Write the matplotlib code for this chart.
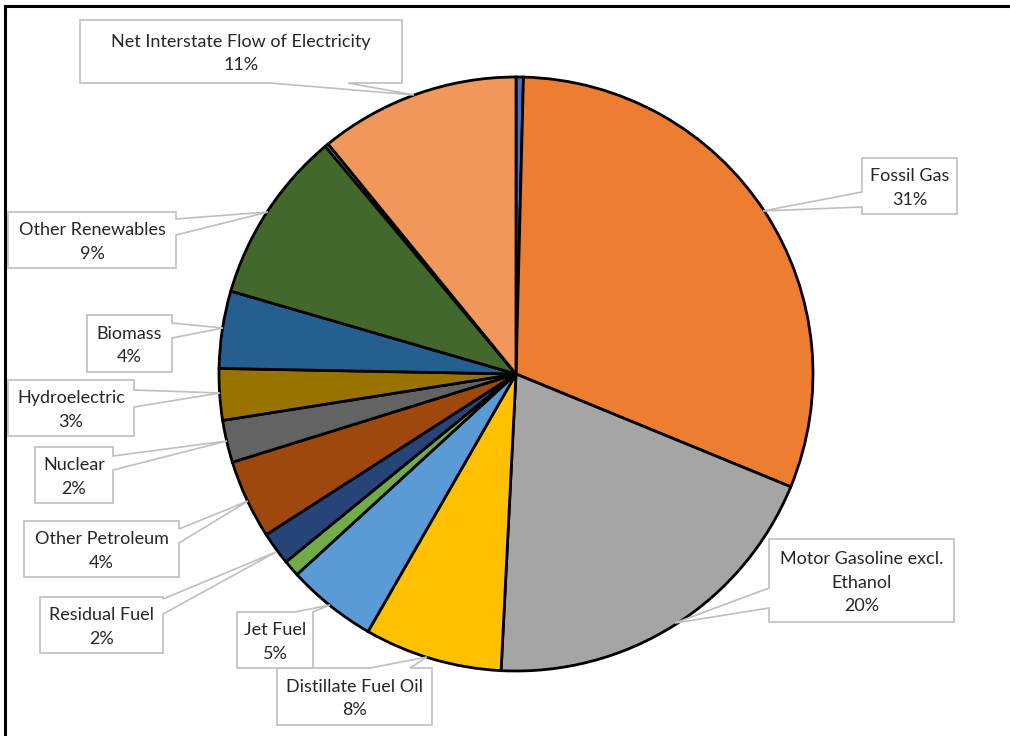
#!/usr/bin/env python3

import matplotlib
matplotlib.use('Agg')
import matplotlib.pyplot as plt
from matplotlib.patches import Polygon


#------------------------------------------------------------------------------
# Data (percent of total, clockwise from 12 o'clock)
#------------------------------------------------------------------------------

sources = [
    'Petroleum Coke', 'Fossil Gas', 'Motor Gasoline excl.\nEthanol',
    'Distillate Fuel Oil', 'Jet Fuel', 'Asphalt', 'Residual Fuel',
    'Other Petroleum', 'Nuclear', 'Hydroelectric', 'Biomass',
    'Other Renewables', 'Wood', 'Net Interstate Flow of Electricity',
]
shares = [0.4, 30.8, 19.6, 7.5, 4.9, 0.9, 1.8, 4.3, 2.3, 2.8, 4.2, 9.4, 0.2, 10.9]
shown = [False, True, True, True, True, False, True, True, True, True, True, True, False, True]
colors = [
    '#4472C4', '#ED7D31', '#A5A5A5', '#FFC000', '#5B9BD5', '#70AD47', '#264478',
    '#9E480E', '#636363', '#997300', '#255E91', '#43682B', '#698ED0', '#F1975A',
]

W, H = 1010, 736
CX, CY, R = 516, 374, 297

# callout boxes in pixel coords (y down): box, pointer side, pointer base, tip
callouts = {
    'Net Interstate Flow of Electricity': ((80, 20, 402, 83), 'bottom', (270, 348), (414, 95)),
    'Fossil Gas': ((862, 158, 957, 214), 'left', (192, 207), (763, 211)),
    'Motor Gasoline excl.\nEthanol': ((769, 539, 954, 622), 'left', (588, 608), (675, 623)),
    'Distillate Fuel Oil': ((277, 668, 432, 725), 'top', (370, 410), (427, 657)),
    'Jet Fuel': ((237, 612, 313, 668), 'top', (295, 313), (330, 605)),
    'Residual Fuel': ((40, 597, 163, 653), 'right', (599, 614), (276, 552)),
    'Other Petroleum': ((24, 521, 179, 577), 'right', (529, 543), (248, 501)),
    'Nuclear': ((35, 447, 113, 503), 'right', (456, 470), (227, 441)),
    'Hydroelectric': ((8, 380, 134, 436), 'right', (390, 407), (220, 393)),
    'Biomass': ((87, 315, 172, 372), 'right', (323, 338), (223, 328)),
    'Other Renewables': ((8, 212, 176, 268), 'right', (219, 235), (268, 212)),
}


def fy(y):
    # image row -> data y
    return H - y


def callout_shape(box, side, base, tip):
    x0, y0, x1, y1 = box
    b0, b1 = base
    if side == 'top':
        pts = [(x0, y0), (b0, y0), tip, (b1, y0), (x1, y0), (x1, y1), (x0, y1)]
    elif side == 'right':
        pts = [(x0, y0), (x1, y0), (x1, b0), tip, (x1, b1), (x1, y1), (x0, y1)]
    elif side == 'bottom':
        pts = [(x0, y0), (x1, y0), (x1, y1), (b1, y1), tip, (b0, y1), (x0, y1)]
    else:
        pts = [(x0, y0), (x1, y0), (x1, y1), (x0, y1), (x0, b1), tip, (x0, b0)]
    return [(x, fy(y)) for x, y in pts]


#------------------------------------------------------------------------------
# Plot
#------------------------------------------------------------------------------


def draw():
    fig = plt.figure(figsize=(W / 100, H / 100), dpi=100)
    ax = fig.add_axes([0, 0, 1, 1])

    ax.pie(shares, colors=colors, startangle=90, counterclock=False,
           center=(CX, fy(CY)), radius=R,
           wedgeprops=dict(edgecolor='black', linewidth=2.0, joinstyle='miter'))

    total = sum(shares)
    for name, share, show in zip(sources, shares, shown):
        if not show:
            continue
        box, side, base, tip = callouts[name]
        poly = Polygon(callout_shape(box, side, base, tip), closed=True,
                       facecolor='white', edgecolor='#BFBFBF', linewidth=1.2, zorder=5)
        ax.add_patch(poly)
        x0, y0, x1, y1 = box
        label = '{}\n{:.0f}%'.format(name, 100 * share / total)
        ax.text((x0 + x1) / 2, fy((y0 + y1) / 2 + 2), label, ha='center', va='center',
                fontsize=13, family='Lato', color='#262626', linespacing=1.6, zorder=6)

    # chart frame (left and top edges visible)
    ax.plot([5, 5, W], [0, fy(6), fy(6)], color='black', linewidth=2.2, zorder=7,
            solid_joinstyle='miter')

    ax.set_xlim(0, W)
    ax.set_ylim(0, H)
    ax.set_aspect('auto')
    ax.axis('off')

    fig.savefig('out.png', dpi=100, facecolor='white')
    plt.close(fig)


if __name__ == '__main__':
    draw()
